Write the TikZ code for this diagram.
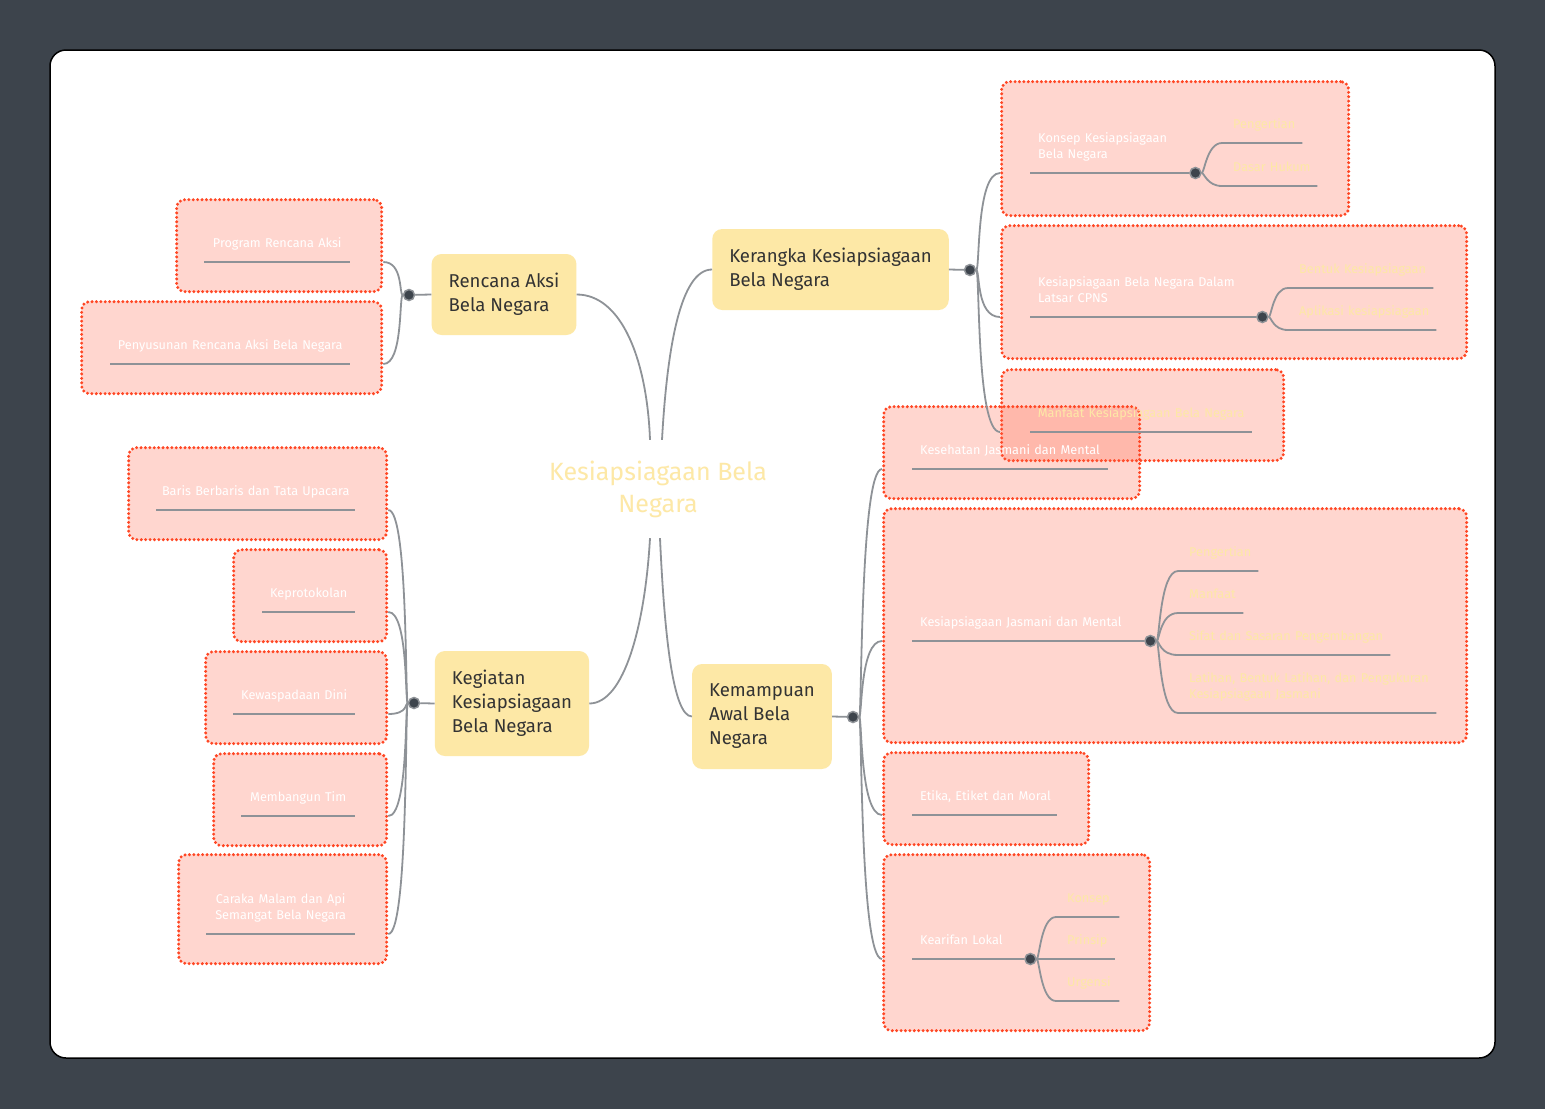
\documentclass[tikz,border=0pt]{standalone}
\usepackage{fontspec}
\setmainfont{Fira Sans}
\definecolor{bgdark}{RGB}{61,68,76}
\definecolor{mainfill}{RGB}{253,232,166}
\definecolor{maintext}{RGB}{51,51,51}
\definecolor{linegray}{RGB}{142,146,151}
\definecolor{framered}{RGB}{255,70,35}
\definecolor{framefill}{RGB}{255,95,67}
\begin{document}
\begin{tikzpicture}[x=1pt,y=-1pt,
    br/.style={draw=linegray,line width=1.8pt},
    root/.style={text=mainfill,align=center,minimum height=98pt,
                 font=\fontsize{25}{32}\selectfont},
    mainbox/.style={rectangle,rounded corners=10pt,fill=mainfill,text=maintext,
                    align=left,inner xsep=17pt,font=\fontsize{18.6}{24}\selectfont},
    frame/.style={rectangle,rounded corners=8pt,draw=framered,fill=framefill,
                  fill opacity=0.25,line width=3.3pt,dash pattern=on 0pt off 4.4pt,
                  line cap=round,anchor=north west,inner sep=0pt},
    sub/.style={inner xsep=0pt,inner ysep=9.2pt,anchor=south west,text=white,
                font=\fontsize{12.7}{16}\selectfont,execute at end node=\strut},
    subL/.style={sub,align=left,execute at begin node={\leftskip=8pt}},
    subC/.style={sub,align=center},
    leaf/.style={sub,align=left,text=mainfill,execute at begin node={\leftskip=11pt}},
    dot/.style={circle,fill=bgdark,draw=linegray,line width=1.5pt,
                inner sep=0pt,minimum size=11pt}
  ]
    % background and card
    \fill[bgdark] (0,0) rectangle (1545,1109);
    \draw[fill=white,draw=black,line width=1.5pt,rounded corners=16pt] (50,50) rectangle (1495,1058);

    % frames round the subtopics
    \node[frame,minimum width=205pt,minimum height=92pt] (fRP) at (175,198) {};
    \node[frame,minimum width=300pt,minimum height=92pt] (fRS) at (80,300) {};
    \node[frame,minimum width=347pt,minimum height=134pt] (fKK) at (1000,80) {};
    \node[frame,minimum width=465pt,minimum height=133pt] (fKL) at (1000,224) {};
    \node[frame,minimum width=282pt,minimum height=91pt] (fKM) at (1000,368) {};
    \node[frame,minimum width=256pt,minimum height=92pt] (fAK) at (882,405) {};
    \node[frame,minimum width=583pt,minimum height=234pt] (fAJ) at (882,507) {};
    \node[frame,minimum width=205pt,minimum height=92pt] (fAE) at (882,751) {};
    \node[frame,minimum width=266pt,minimum height=176pt] (fAL) at (882,853) {};
    \node[frame,minimum width=258pt,minimum height=92pt] (fG1) at (127,446) {};
    \node[frame,minimum width=153pt,minimum height=92pt] (fG2) at (232,548) {};
    \node[frame,minimum width=181pt,minimum height=92pt] (fG3) at (204,650) {};
    \node[frame,minimum width=173pt,minimum height=92pt] (fG4) at (212,752) {};
    \node[frame,minimum width=208pt,minimum height=109pt] (fG5) at (177,853) {};

    % central topic and main branches
    \node[root] (root) at (658,489) {Kesiapsiagaan Bela\\Negara};
    \node[mainbox,minimum height=81pt] (ra) at (504,294.5) {Rencana Aksi\\Bela Negara};
    \node[mainbox,minimum height=81pt] (kr) at (830.5,269.5) {Kerangka Kesiapsiagaan\\Bela Negara};
    \node[mainbox,minimum height=105pt] (kg) at (512,703.5) {Kegiatan\\Kesiapsiagaan\\Bela Negara};
    \node[mainbox,minimum height=105pt] (ka) at (762,716.5) {Kemampuan\\Awal Bela\\Negara};

    \draw[br] ([xshift=-8pt]root.north) .. controls +(-3,-80) and +(45,0) .. (ra.east);
    \draw[br] ([xshift=4pt]root.north) .. controls +(5,-90) and +(-32,0) .. (kr.west);
    \draw[br] ([xshift=-8pt]root.south) .. controls +(-5,87) and +(35,0) .. (kg.east);
    \draw[br] ([xshift=2pt]root.south) .. controls +(4,87) and +(-20,0) .. (ka.west);

    % Rencana Aksi
    \node[dot] (dR) at (409,295) {};
    \node[subC,text width=146pt] (rp) at (204,262) {Program Rencana Aksi};
    \node[subC,text width=240pt] (rs) at (110,364) {Penyusunan Rencana Aksi Bela Negara};
    \draw[br] (ra.west) -- (dR);
    \draw[br] (dR) .. controls +(-10,0) and +(20,0) .. (fRP.east |- rp.south);
    \draw[br] (dR) .. controls +(-10,0) and +(20,0) .. (fRS.east |- rs.south);
    \draw[br] (rp.south west) -- (rp.south east);
    \draw[br] (rs.south west) -- (rs.south east);

    % Kerangka Kesiapsiagaan
    \node[dot] (dK) at (970,270) {};
    \node[subL,text width=165pt] (kk) at (1030,173) {Konsep Kesiapsiagaan\\Bela Negara};
    \node[subL,text width=232pt] (kl) at (1030,317) {Kesiapsiagaan Bela Negara Dalam\\Latsar CPNS};
    \node[subC,text width=222pt,text=mainfill] (km) at (1030,432) {Manfaat Kesiapsiagaan Bela Negara};
    \node[dot] (dKK) at (kk.south east) {};
    \node[dot] (dKL) at (kl.south east) {};
    \node[leaf,text width=80pt] (kk1) at (1222,143) {Pengertian};
    \node[leaf,text width=95pt] (kk2) at (1222,186) {Dasar Hukum};
    \node[leaf,text width=145pt] (kl1) at (1288,288) {Bentuk Kesiapsiagaan};
    \node[leaf,text width=148pt] (kl2) at (1288,330) {Aplikasi kesiapsiagaan};
    \draw[br] (kr.east) -- (dK);
    \draw[br] (dK) .. controls +(10,0) and +(-24,0) .. (fKK.west |- kk.south);
    \draw[br] (dK) .. controls +(10,0) and +(-24,0) .. (fKL.west |- kl.south);
    \draw[br] (dK) .. controls +(10,0) and +(-24,0) .. (fKM.west |- km.south);
    \draw[br] (kk.south west) -- (dKK);
    \draw[br] (kl.south west) -- (dKL);
    \draw[br] (km.south west) -- (km.south east);
    \draw[br] (dKK) .. controls +(9,0) and +(-15,0) .. (kk1.south west) -- (kk1.south east);
    \draw[br] (dKK) .. controls +(9,0) and +(-15,0) .. (kk2.south west) -- (kk2.south east);
    \draw[br] (dKL) .. controls +(9,0) and +(-15,0) .. (kl1.south west) -- (kl1.south east);
    \draw[br] (dKL) .. controls +(9,0) and +(-15,0) .. (kl2.south west) -- (kl2.south east);

    % Kegiatan Kesiapsiagaan
    \node[dot] (dG) at (414,703) {};
    \node[subC,text width=199pt] (g1) at (156,510) {Baris Berbaris dan Tata Upacara};
    \node[subC,text width=93pt] (g2) at (262,612) {Keprotokolan};
    \node[subC,text width=122pt] (g3) at (233,714) {Kewaspadaan Dini};
    \node[subC,text width=114pt] (g4) at (241,816) {Membangun Tim};
    \node[subC,text width=149pt] (g5) at (206,934) {Caraka Malam dan Api\\Semangat Bela Negara};
    \draw[br] (kg.west) -- (dG);
    \draw[br] (dG) .. controls +(-9,0) and +(20,0) .. (fG1.east |- g1.south);
    \draw[br] (dG) .. controls +(-9,0) and +(20,0) .. (fG2.east |- g2.south);
    \draw[br] (dG) .. controls +(-9,0) and +(20,0) .. (fG3.east |- g3.south);
    \draw[br] (dG) .. controls +(-9,0) and +(20,0) .. (fG4.east |- g4.south);
    \draw[br] (dG) .. controls +(-9,0) and +(20,0) .. (fG5.east |- g5.south);
    \draw[br] (g1.south west) -- (g1.south east);
    \draw[br] (g2.south west) -- (g2.south east);
    \draw[br] (g3.south west) -- (g3.south east);
    \draw[br] (g4.south west) -- (g4.south east);
    \draw[br] (g5.south west) -- (g5.south east);

    % Kemampuan Awal
    \node[dot] (dA) at (853,717) {};
    \node[subL,text width=196pt] (ak) at (912,469) {Kesehatan Jasmani dan Mental};
    \node[subL,text width=238pt] (aj) at (912,641) {Kesiapsiagaan Jasmani dan Mental};
    \node[subL,text width=145pt] (ae) at (912,815) {Etika, Etiket dan Moral};
    \node[subL,text width=118pt] (al) at (912,959) {Kearifan Lokal};
    \node[dot] (dAJ) at (aj.south east) {};
    \node[dot] (dAL) at (al.south east) {};
    \node[leaf,text width=80pt] (aj1) at (1178,571) {Pengertian};
    \node[leaf,text width=65pt] (aj2) at (1178,613) {Manfaat};
    \node[leaf,text width=212pt] (aj3) at (1178,655) {Sifat dan Sasaran Pengembangan};
    \node[leaf,text width=258pt] (aj4) at (1178,713) {Latihan, Bentuk Latihan, dan Pengukuran\\Kesiapsiagaan Jasmani};
    \node[leaf,text width=63pt] (al1) at (1056,917) {Konsep};
    \node[leaf,text width=59pt] (al2) at (1056,959) {Prinsip};
    \node[leaf,text width=63pt] (al3) at (1056,1001) {Urgensi};
    \draw[br] (ka.east) -- (dA);
    \draw[br] (dA) .. controls +(9,0) and +(-22,0) .. (fAK.west |- ak.south);
    \draw[br] (dA) .. controls +(9,0) and +(-22,0) .. (fAJ.west |- aj.south);
    \draw[br] (dA) .. controls +(9,0) and +(-22,0) .. (fAE.west |- ae.south);
    \draw[br] (dA) .. controls +(9,0) and +(-22,0) .. (fAL.west |- al.south);
    \draw[br] (ak.south west) -- (ak.south east);
    \draw[br] (aj.south west) -- (dAJ);
    \draw[br] (ae.south west) -- (ae.south east);
    \draw[br] (al.south west) -- (dAL);
    \draw[br] (dAJ) .. controls +(9,0) and +(-18,0) .. (aj1.south west) -- (aj1.south east);
    \draw[br] (dAJ) .. controls +(9,0) and +(-18,0) .. (aj2.south west) -- (aj2.south east);
    \draw[br] (dAJ) .. controls +(9,0) and +(-18,0) .. (aj3.south west) -- (aj3.south east);
    \draw[br] (dAJ) .. controls +(9,0) and +(-18,0) .. (aj4.south west) -- (aj4.south east);
    \draw[br] (dAL) .. controls +(9,0) and +(-15,0) .. (al1.south west) -- (al1.south east);
    \draw[br] (dAL) -- (al2.south east);
    \draw[br] (dAL) .. controls +(9,0) and +(-15,0) .. (al3.south west) -- (al3.south east);
  \end{tikzpicture}
\end{document}
